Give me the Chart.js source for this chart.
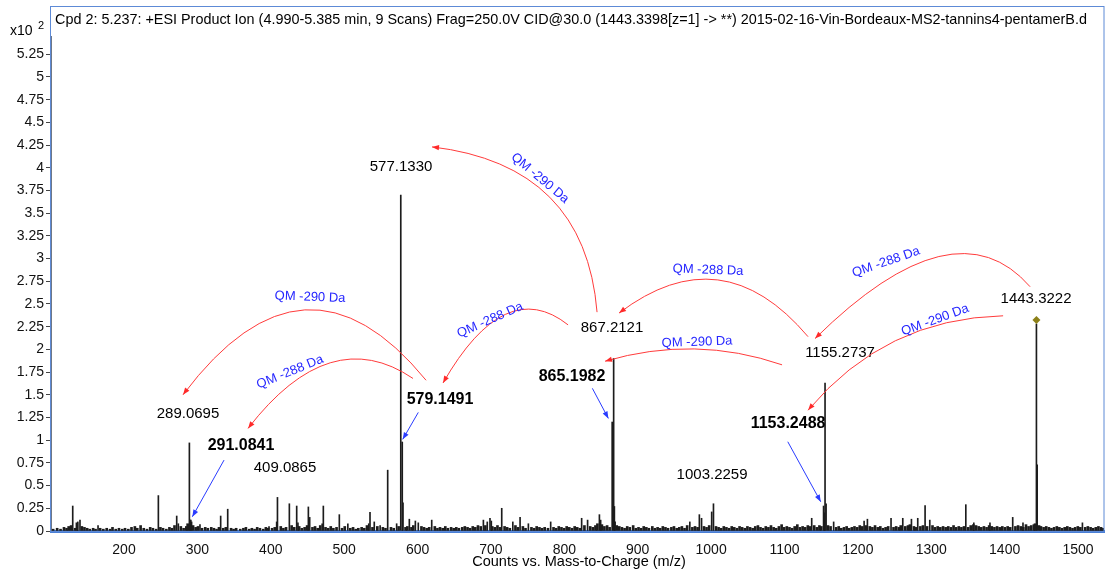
<!DOCTYPE html>
<html>
<head>
<meta charset="utf-8">
<script src="https://cdn.jsdelivr.net/npm/chart.js@4.4.1/dist/chart.umd.min.js"></script>
<style>
  html, body { margin: 0; padding: 0; background: #fff; }
  #wrap { width: 1106px; height: 572px; }
</style>
</head>
<body>
<div id="wrap"><canvas id="spec" width="1106" height="572"></canvas></div>
<script>
// product ion spectrum, intensities in units of 10^2 counts
var peakMz = [130.1, 137.0, 140.0, 164.6, 246.8, 271.8, 274.0, 289.07, 290.07, 291.08, 292.08, 303.5,
  331.7, 341.3, 397.6, 408.0, 409.09, 425.3, 435.3, 437.0, 451.2, 453.0, 470.0, 471.6, 493.4, 505.0,
  533.5, 535.2, 541.0, 549.0, 559.3, 571.5, 577.13, 579.15, 580.15, 588.8, 597.0, 601.0, 619.3,
  689.7, 695.0, 698.7, 700.5, 714.7, 729.8, 739.7, 751.0, 781.4, 823.6, 831.7, 847.8, 849.5,
  865.20, 867.21, 868.2, 869.2, 971.0, 984.0, 987.0, 1000.8, 1003.23, 1137.1, 1153.25, 1154.3,
  1155.27, 1156.7, 1167.0, 1208.5, 1213.0, 1245.2, 1261.2, 1273.0, 1281.6, 1291.6, 1298.0,
  1347.1, 1358.0, 1380.0, 1411.0, 1425.0, 1443.32, 1444.33, 1506.0];
var peakInt = [0.275, 0.10, 0.12, 0.06, 0.39, 0.165, 0.08, 0.97, 0.12, 0.12, 0.10, 0.07,
  0.165, 0.24, 0.05, 0.10, 0.37, 0.30, 0.275, 0.09, 0.265, 0.15, 0.08, 0.275, 0.18, 0.08,
  0.08, 0.205, 0.10, 0.06, 0.67, 0.08, 3.70, 0.98, 0.31, 0.13, 0.11, 0.09, 0.12,
  0.12, 0.10, 0.14, 0.11, 0.25, 0.10, 0.15, 0.08, 0.10, 0.14, 0.12, 0.18, 0.12,
  1.20, 1.90, 0.27, 0.10, 0.10, 0.18, 0.14, 0.21, 0.30, 0.14, 0.275, 0.20,
  1.63, 0.30, 0.10, 0.11, 0.13, 0.14, 0.14, 0.13, 0.14, 0.28, 0.12,
  0.29, 0.09, 0.09, 0.15, 0.09, 2.28, 0.73, 0.09];

// baseline grass [m/z, intensity]
var grass = [[103.4,.02],[108.9,.03],[113.5,.02],[118.2,.04],[121.7,.03],[124.6,.05],[127.9,.06],[133.4,.03],
  [135.8,.09],[142.6,.05],[146.1,.04],[149.8,.03],[153.3,.02],[157.9,.03],[161.2,.02],[167.5,.03],[171.8,.02],
  [176.4,.03],[180.9,.02],[184.3,.04],[188.7,.02],[193.1,.03],[197.6,.02],[201.4,.03],[205.9,.02],[210.2,.04],
  [214.8,.05],[218.1,.03],[222.6,.06],[226.9,.03],[231.3,.02],[235.7,.04],[239.4,.03],[243.8,.02],[249.6,.04],
  [253.2,.03],[257.7,.02],[261.9,.04],[265.3,.03],[268.8,.06],[277.4,.05],[281.2,.03],[284.9,.05],[286.7,.08],
  [294.1,.06],[297.6,.04],[300.8,.05],[306.3,.03],[310.7,.04],[314.2,.03],[318.9,.04],[322.5,.03],[326.1,.02],
  [329.4,.04],[335.2,.03],[338.7,.04],[345.9,.03],[349.3,.02],[352.8,.03],[358.4,.02],[362.7,.03],[366.1,.04],
  [370.6,.02],[374.2,.03],[377.9,.02],[381.5,.04],[385.2,.03],[389.7,.02],[393.3,.04],[396.2,.03],[401.8,.03],
  [405.4,.04],[413.6,.05],[417.2,.03],[420.8,.04],[428.4,.06],[431.9,.04],[438.7,.05],[442.3,.03],[446.1,.04],
  [449.5,.06],[456.8,.04],[460.3,.05],[463.9,.03],[467.4,.06],[474.6,.04],[478.2,.03],[481.7,.05],[485.3,.03],
  [489.6,.04],[497.1,.03],[500.8,.05],[508.4,.03],[512.1,.04],[515.7,.02],[519.3,.03],[523.8,.04],[527.4,.03],
  [531.1,.06],[538.6,.04],[545.2,.05],[552.7,.04],[556.3,.03],[563.8,.04],[567.5,.03],[574.2,.05],[583.6,.04],
  [586.1,.05],[591.7,.04],[594.2,.06],[605.3,.05],[608.8,.04],[612.4,.03],[615.9,.04],[623.5,.05],[627.1,.03],
  [630.6,.04],[634.2,.03],[637.8,.05],[641.3,.03],[645.7,.04],[649.2,.03],[652.8,.04],[656.3,.03],[660.9,.04],
  [664.4,.05],[668.1,.04],[671.6,.03],[675.2,.05],[678.7,.04],[682.3,.06],[686.1,.05],[692.4,.06],[701.8,.05],
  [705.3,.04],[708.9,.06],[712.4,.04],[718.6,.05],[722.1,.04],[725.7,.03],[733.4,.06],[736.8,.04],[743.5,.05],
  [747.1,.03],[755.2,.04],[758.8,.03],[762.3,.05],[766.1,.04],[769.6,.03],[773.2,.04],[777.7,.03],[785.3,.04],
  [788.9,.03],[792.4,.05],[796.1,.04],[799.7,.03],[803.2,.05],[806.8,.04],[810.5,.03],[814.1,.05],[817.6,.04],
  [821.2,.03],[827.4,.06],[835.3,.05],[838.9,.04],[842.4,.06],[845.1,.08],[851.2,.07],[854.6,.05],[858.3,.06],
  [861.7,.04],[871.4,.06],[874.9,.05],[878.5,.04],[882.1,.03],[885.7,.05],[889.2,.04],[893.8,.06],[897.4,.03],
  [901.1,.04],[904.7,.03],[908.2,.05],[911.8,.04],[915.3,.03],[919.9,.05],[923.4,.03],[927.1,.04],[930.6,.03],
  [934.2,.05],[937.8,.04],[941.3,.03],[945.9,.04],[949.4,.05],[953.1,.03],[956.7,.04],[960.2,.05],[963.8,.03],
  [967.4,.06],[974.5,.04],[978.1,.05],[981.6,.04],[990.3,.05],[993.8,.04],[997.4,.06],[1006.7,.05],[1010.2,.04],
  [1013.8,.03],[1017.3,.05],[1020.9,.04],[1024.5,.03],[1028.1,.05],[1031.6,.04],[1035.2,.03],[1038.8,.05],
  [1042.3,.04],[1045.9,.03],[1049.5,.05],[1053.1,.04],[1056.6,.03],[1060.2,.05],[1063.8,.06],[1067.3,.04],
  [1070.9,.03],[1074.5,.05],[1078.1,.04],[1081.6,.06],[1085.2,.04],[1088.8,.03],[1092.4,.05],[1096.1,.07],
  [1099.6,.04],[1103.2,.05],[1106.8,.04],[1110.4,.03],[1113.9,.05],[1117.5,.07],[1121.1,.04],[1124.7,.05],
  [1128.2,.04],[1131.8,.06],[1134.3,.05],[1140.5,.06],[1144.1,.04],[1147.6,.06],[1150.2,.05],[1159.3,.06],
  [1162.8,.05],[1170.4,.04],[1173.9,.05],[1177.5,.03],[1181.1,.04],[1184.7,.05],[1188.3,.03],[1191.8,.04],
  [1195.4,.05],[1199.1,.04],[1202.6,.06],[1206.1,.05],[1210.8,.06],[1216.3,.05],[1219.8,.04],[1223.4,.06],
  [1227.1,.04],[1230.6,.05],[1234.2,.03],[1237.8,.04],[1241.3,.05],[1248.6,.04],[1252.2,.05],[1255.8,.04],
  [1258.4,.06],[1264.7,.05],[1268.3,.06],[1270.9,.07],[1276.4,.05],[1279.1,.04],[1285.2,.05],[1288.7,.06],
  [1294.3,.05],[1301.7,.06],[1305.2,.04],[1308.8,.05],[1312.4,.04],[1316.1,.05],[1319.6,.04],[1323.2,.05],
  [1326.8,.04],[1330.4,.06],[1333.9,.04],[1337.5,.05],[1341.1,.04],[1344.6,.05],[1350.3,.04],[1353.8,.06],
  [1357.4,.07],[1361.1,.06],[1364.6,.05],[1368.2,.04],[1371.8,.05],[1375.4,.04],[1378.9,.06],[1382.5,.05],
  [1386.1,.04],[1389.7,.05],[1393.2,.04],[1396.8,.05],[1400.4,.04],[1404.1,.05],[1407.6,.04],[1414.7,.05],
  [1418.3,.06],[1421.9,.05],[1425.4,.04],[1429.1,.07],[1432.6,.05],[1436.2,.06],[1439.8,.07],[1441.4,.08],
  [1446.9,.06],[1449.5,.05],[1453.1,.04],[1456.7,.05],[1460.3,.04],[1463.8,.03],[1467.4,.04],[1471.1,.05],
  [1474.6,.04],[1478.2,.03],[1481.8,.04],[1485.4,.05],[1488.9,.04],[1492.5,.03],[1496.1,.04],[1499.7,.05],
  [1503.2,.04],[1509.8,.04],[1513.4,.05],[1517.1,.04],[1520.6,.03],[1524.2,.04],[1527.8,.05],[1531.4,.04],
  [1534.6,.03]];

var xTicks = [200, 300, 400, 500, 600, 700, 800, 900, 1000, 1100, 1200, 1300, 1400, 1500];
var yTicks = [0, 0.25, 0.5, 0.75, 1, 1.25, 1.5, 1.75, 2, 2.25, 2.5, 2.75, 3, 3.25, 3.5, 3.75, 4,
  4.25, 4.5, 4.75, 5, 5.25];

var title = 'Cpd 2: 5.237: +ESI Product Ion (4.990-5.385 min, 9 Scans) Frag=250.0V CID@30.0 (1443.3398[z=1] -> **) 2015-02-16-Vin-Bordeaux-MS2-tannins4-pentamerB.d';
var precursorMz = 1443.32;
var precursorInt = 2.28;

// labelled ions: text, m/z, intensity (text centre), bold
var ionLabels = [
  ['577.1330', 577.5, 4.006, false],
  ['579.1491', 630.6, 1.442, true],
  ['289.0695', 287.2, 1.288, false],
  ['291.0841', 359.4, 0.936, true],
  ['409.0865', 419.4, 0.693, false],
  ['867.2121', 865.0, 2.234, false],
  ['865.1982', 810.5, 1.695, true],
  ['1003.2259', 1001.3, 0.616, false],
  ['1155.2737', 1175.7, 1.959, false],
  ['1153.2488', 1104.9, 1.178, true],
  ['1443.3222', 1442.8, 2.553, false]
];

// neutral loss arcs: start, control, end (m/z, intensity)
var lossArcs = [
  [844.6, 2.41, 828.2, 4.03, 619.7, 4.23],
  [1132.1, 2.14, 1014.9, 3.26, 874.6, 2.40],
  [1434.7, 2.69, 1332.5, 3.64, 1141.7, 2.12],
  [1397.9, 2.37, 1237.1, 2.34, 1132.1, 1.33],
  [1096.7, 1.83, 978.1, 2.16, 855.5, 1.87],
  [805.1, 2.27, 719.2, 2.82, 634.7, 1.63],
  [611.6, 1.66, 446.7, 3.29, 280.4, 1.50],
  [593.8, 1.68, 480.7, 2.30, 369.0, 1.13]
];

// loss captions: text, m/z, intensity, angle in degrees
var lossText = [
  ['QM -290 Da', 766.9, 3.885, 40],
  ['QM -288 Da', 995.9, 2.873, 2],
  ['QM -288 Da', 1238.4, 2.961, -19],
  ['QM -290 Da', 1305.2, 2.322, -20],
  ['QM -290 Da', 980.9, 2.080, -2],
  ['QM -288 Da', 698.8, 2.322, -24],
  ['QM -290 Da', 453.5, 2.575, 2],
  ['QM -288 Da', 426.2, 1.750, -22]
];

// pointers from bold labels to their peaks
var pointers = [
  [601.0, 1.306, 579.8, 1.009],
  [336.3, 0.781, 293.1, 0.157],
  [838.2, 1.571, 860.0, 1.240],
  [1104.5, 0.983, 1149.4, 0.322]
];

var FONT = "'Liberation Sans', Arial, sans-serif";

function arrowHead(ctx, x, y, ang, size, color) {
  ctx.save();
  ctx.translate(x, y);
  ctx.rotate(ang);
  ctx.beginPath();
  ctx.moveTo(0, 0);
  ctx.lineTo(-size, -size * 0.38);
  ctx.lineTo(-size, size * 0.38);
  ctx.closePath();
  ctx.fillStyle = color;
  ctx.fill();
  ctx.restore();
}

var decorations = {
  id: 'decorations',
  beforeDraw: function(chart) {
    var ctx = chart.ctx;
    ctx.save();
    ctx.fillStyle = '#fff';
    ctx.fillRect(0, 0, chart.width, chart.height);
    ctx.restore();
  },
  afterDatasetsDraw: function(chart) {
    var ctx = chart.ctx;
    var xs = chart.scales.x, ys = chart.scales.y;
    var a = chart.chartArea;
    var px = function(v) { return xs.getPixelForValue(v); };
    var py = function(v) { return ys.getPixelForValue(v); };

    ctx.save();
    // frame
    ctx.strokeStyle = '#5d8ad6';
    ctx.lineWidth = 1;
    ctx.strokeRect(a.left - 0.5, 6.5, a.right - a.left + 0.5, a.bottom - 6);

    // title
    ctx.fillStyle = '#000';
    ctx.font = '14.4px ' + FONT;
    ctx.textAlign = 'left';
    ctx.textBaseline = 'middle';
    ctx.fillText(title, a.left + 4, 20);

    // axis multiplier
    ctx.font = '14px ' + FONT;
    ctx.textBaseline = 'alphabetic';
    ctx.fillText('x10', 10, 35);
    ctx.font = '11px ' + FONT;
    ctx.fillText('2', 38, 29);

    // x axis title
    ctx.font = '14.5px ' + FONT;
    ctx.textAlign = 'center';
    ctx.textBaseline = 'middle';
    ctx.fillText('Counts vs. Mass-to-Charge (m/z)', 579, 562);

    // precursor marker
    var dx = px(precursorMz), dy = py(precursorInt) - 4;
    ctx.beginPath();
    ctx.moveTo(dx, dy - 4);
    ctx.lineTo(dx + 4, dy);
    ctx.lineTo(dx, dy + 4);
    ctx.lineTo(dx - 4, dy);
    ctx.closePath();
    ctx.fillStyle = '#8c8018';
    ctx.fill();

    // ion labels
    ionLabels.forEach(function(l) {
      ctx.font = (l[3] ? 'bold 16px ' : '15px ') + FONT;
      ctx.fillStyle = '#000';
      ctx.textAlign = 'center';
      ctx.textBaseline = 'middle';
      ctx.fillText(l[0], px(l[1]), py(l[2]));
    });

    // loss arcs
    lossArcs.forEach(function(c) {
      var x0 = px(c[0]), y0 = py(c[1]), x1 = px(c[2]), y1 = py(c[3]), x2 = px(c[4]), y2 = py(c[5]);
      ctx.beginPath();
      ctx.moveTo(x0, y0);
      ctx.quadraticCurveTo(x1, y1, x2, y2);
      ctx.strokeStyle = '#ff3b3b';
      ctx.lineWidth = 1;
      ctx.stroke();
      arrowHead(ctx, x2, y2, Math.atan2(y2 - y1, x2 - x1), 7, '#ff2a2a');
    });

    // loss captions
    lossText.forEach(function(t) {
      ctx.save();
      ctx.translate(px(t[1]), py(t[2]));
      ctx.rotate(t[3] * Math.PI / 180);
      ctx.font = '13px ' + FONT;
      ctx.fillStyle = '#2626ff';
      ctx.textAlign = 'center';
      ctx.textBaseline = 'middle';
      ctx.fillText(t[0], 0, 0);
      ctx.restore();
    });

    // label pointers
    pointers.forEach(function(p) {
      var x0 = px(p[0]), y0 = py(p[1]), x1 = px(p[2]), y1 = py(p[3]);
      ctx.beginPath();
      ctx.moveTo(x0, y0);
      ctx.lineTo(x1, y1);
      ctx.strokeStyle = '#2a3cff';
      ctx.lineWidth = 1;
      ctx.stroke();
      arrowHead(ctx, x1, y1, Math.atan2(y1 - y0, x1 - x0), 7, '#2a3cff');
    });
    ctx.restore();
  }
};

var ctx = document.getElementById('spec');
var spectrum = new Chart(ctx, {
  type: 'bar',
  data: {
    datasets: [{
      data: grass.map(function(g) { return { x: g[0], y: g[1] }; }),
      backgroundColor: '#1c1c1c',
      barThickness: 2,
      grouped: false
    }, {
      data: peakMz.map(function(m, i) { return { x: m, y: peakInt[i] }; }),
      backgroundColor: '#1c1c1c',
      barThickness: 1,
      grouped: false
    }]
  },
  options: {
    responsive: false,
    devicePixelRatio: 1,
    animation: false,
    layout: { padding: { top: 37, right: 2, left: 0, bottom: 0 } },
    plugins: {
      legend: { display: false },
      tooltip: { enabled: false },
      title: { display: false }
    },
    scales: {
      x: {
        type: 'linear',
        offset: false,
        min: 100.5,
        max: 1535.4,
        afterBuildTicks: function(s) { s.ticks = xTicks.map(function(v) { return { value: v }; }); },
        afterFit: function(s) { s.height = 41; },
        grid: { display: false, offset: false },
        border: { color: '#4a7fd6', width: 3 },
        ticks: {
          color: '#111',
          font: { size: 14, family: FONT },
          padding: 3,
          maxRotation: 0,
          callback: function(v) { return String(v); }
        }
      },
      y: {
        min: 0,
        max: 5.44,
        afterBuildTicks: function(s) { s.ticks = yTicks.map(function(v) { return { value: v }; }); },
        afterFit: function(s) { s.width = 51; },
        grid: { drawOnChartArea: false, tickLength: 5, color: '#444' },
        border: { color: '#6f7887', width: 2 },
        ticks: {
          color: '#111',
          font: { size: 14, family: FONT },
          padding: 2,
          callback: function(v) { return String(v); }
        }
      }
    }
  },
  plugins: [decorations]
});
</script>
</body>
</html>
